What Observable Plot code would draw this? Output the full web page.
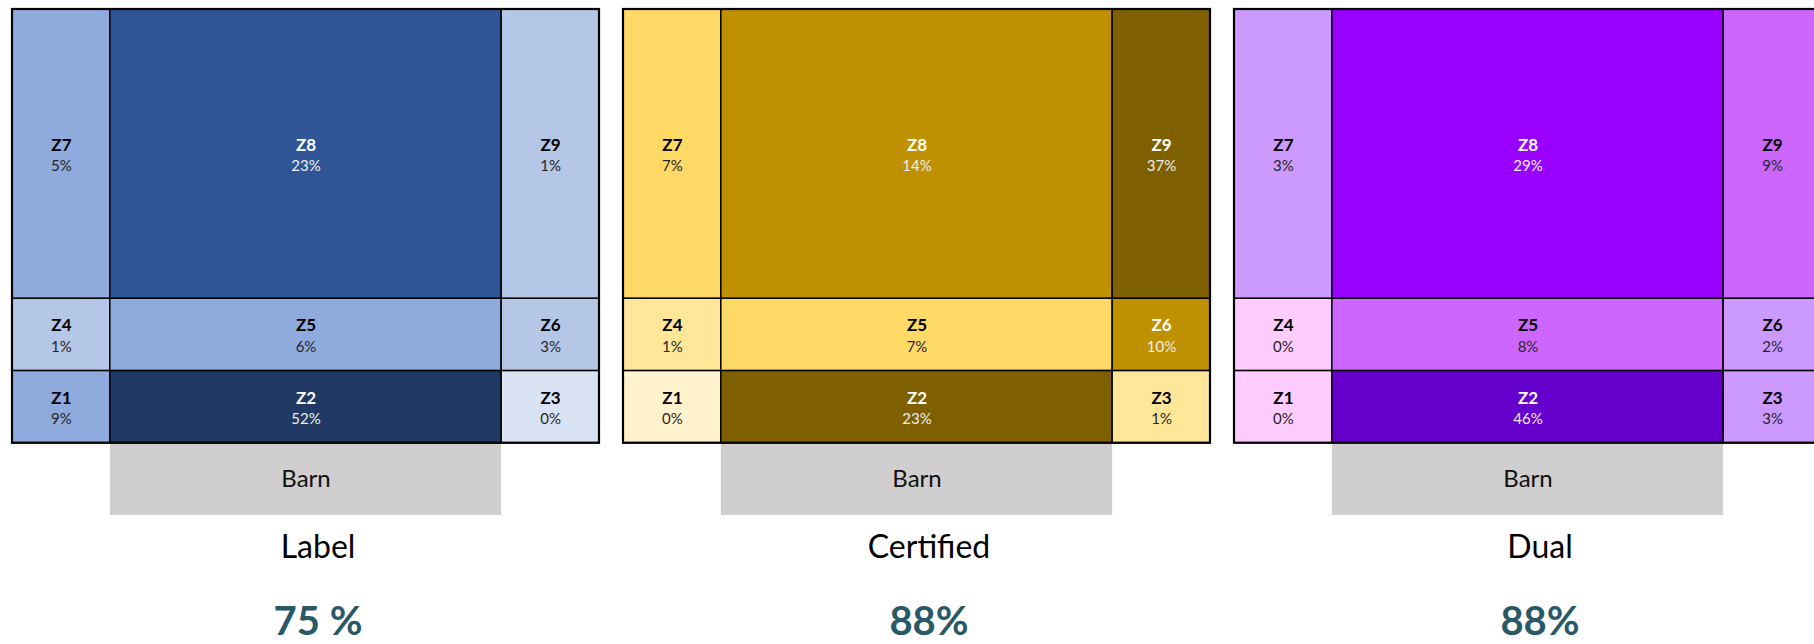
<!DOCTYPE html>
<html>
<head>
<meta charset="utf-8">
<script src="https://cdn.jsdelivr.net/npm/d3@7"></script>
<script src="https://cdn.jsdelivr.net/npm/@observablehq/plot@0.6"></script>
<style>
  html, body { margin: 0; padding: 0; background: #fff; overflow: hidden; }
  #chart { width: 1814px; height: 644px; overflow: hidden; }
  #chart svg { max-width: none !important; font-family: Lato, "Noto Sans", sans-serif; }
</style>
</head>
<body>
<div id="chart"></div>
<script>
// ---- data ----
const panels = ["Label", "Certified", "Dual"];
const scores = ["75 %", "88%", "88%"];
const zones = ["Z1", "Z2", "Z3", "Z4", "Z5", "Z6", "Z7", "Z8", "Z9"];
const labelShare = [9, 52, 0, 1, 6, 3, 5, 23, 1];
const certifiedShare = [0, 23, 1, 1, 7, 10, 7, 14, 37];
const dualShare = [0, 46, 3, 0, 8, 2, 3, 29, 9];
// shade class (0 = lightest … 4 = darkest) shown in each zone
const labelShade = [2, 4, 0, 1, 2, 1, 2, 3, 1];
const certifiedShade = [0, 4, 1, 1, 2, 3, 2, 3, 4];
const dualShade = [0, 4, 1, 0, 2, 1, 1, 3, 2];
const barnLabel = "Barn";

// ---- layout & style (not data) ----
const colEdges = [0, 1, 5, 6];   // left, centre, right columns of the floor plan
const rowEdges = [0, 1, 2, 6];   // bottom, middle, top rows
const palettes = {
  Label: ["#dae3f3", "#b4c7e7", "#8faadc", "#2f5597", "#1f3864"],
  Certified: ["#fff2cc", "#ffe699", "#ffd966", "#bf9000", "#7f6000"],
  Dual: ["#ffccff", "#cc99ff", "#cc66ff", "#9900ff", "#6600cc"]
};

const shares = {Label: labelShare, Certified: certifiedShare, Dual: dualShare};
const shades = {Label: labelShade, Certified: certifiedShade, Dual: dualShade};
const cells = panels.flatMap(p => zones.map((z, i) => ({
  panel: p, zone: z, share: shares[p][i], shade: shades[p][i],
  col: i % 3, row: Math.floor(i / 3)
})));

const colorDomain = panels.flatMap(p => d3.range(5).map(s => p + "|" + s));
const colorRange = panels.flatMap(p => palettes[p]);

const cx = d => (colEdges[d.col] + colEdges[d.col + 1]) / 2;
const cy = d => (rowEdges[d.row] + rowEdges[d.row + 1]) / 2;

const chart = Plot.plot({
  width: 1823,
  height: 644,
  marginLeft: 11,
  marginRight: 0,
  marginTop: 9,
  marginBottom: 129,
  style: {fontFamily: "Lato, 'Noto Sans', sans-serif", background: "#fff", maxWidth: "none"},
  fx: {domain: panels, paddingInner: 0.0392, paddingOuter: 0, axis: null},
  x: {domain: [colEdges[0], colEdges[3]], axis: null},
  y: {domain: [-1, rowEdges[3]], axis: null},
  color: {type: "ordinal", domain: colorDomain, range: colorRange},
  marks: [
    // barn below the house
    Plot.rect(panels, {
      fx: d => d, x1: colEdges[1], x2: colEdges[2], y1: -1, y2: 0,
      fill: "#d0cece"
    }),
    Plot.text(panels, {
      fx: d => d, x: (colEdges[1] + colEdges[2]) / 2, y: -0.5,
      text: () => barnLabel, fontSize: 24, fill: "#111"
    }),
    // zones
    Plot.rect(cells, {
      fx: "panel",
      x1: d => colEdges[d.col], x2: d => colEdges[d.col + 1],
      y1: d => rowEdges[d.row], y2: d => rowEdges[d.row + 1],
      fill: d => d.panel + "|" + d.shade,
      stroke: "#000", strokeWidth: 1.5
    }),
    Plot.rect(panels, {
      fx: d => d, x1: colEdges[0], x2: colEdges[3], y1: rowEdges[0], y2: rowEdges[3],
      fill: "none", stroke: "#000", strokeWidth: 2.2
    }),
    // zone names & shares, light cells
    Plot.text(cells, {
      filter: d => d.shade < 3, fx: "panel", x: cx, y: cy, text: "zone",
      fontWeight: 700, fontSize: 17, dy: -9, fill: "#000"
    }),
    Plot.text(cells, {
      filter: d => d.shade < 3, fx: "panel", x: cx, y: cy, text: d => d.share + "%",
      fontSize: 15, dy: 12, fill: "#262626"
    }),
    // zone names & shares, dark cells
    Plot.text(cells, {
      filter: d => d.shade >= 3, fx: "panel", x: cx, y: cy, text: "zone",
      fontWeight: 700, fontSize: 17, dy: -9, fill: "#fff"
    }),
    Plot.text(cells, {
      filter: d => d.shade >= 3, fx: "panel", x: cx, y: cy, text: d => d.share + "%",
      fontSize: 15, dy: 12, fill: "#eeeeee"
    }),
    // panel titles and scores
    Plot.text(panels, {
      fx: d => d, text: d => d, frameAnchor: "bottom", lineAnchor: "middle",
      dx: 12, dy: 32, fontSize: 32, fill: "#000"
    }),
    Plot.text(panels, {
      fx: d => d, text: d => scores[panels.indexOf(d)], frameAnchor: "bottom", lineAnchor: "middle",
      dx: 12, dy: 107, fontSize: 40, fontWeight: 700, fill: "#295966"
    })
  ]
});
document.getElementById("chart").appendChild(chart);
</script>
</body>
</html>
